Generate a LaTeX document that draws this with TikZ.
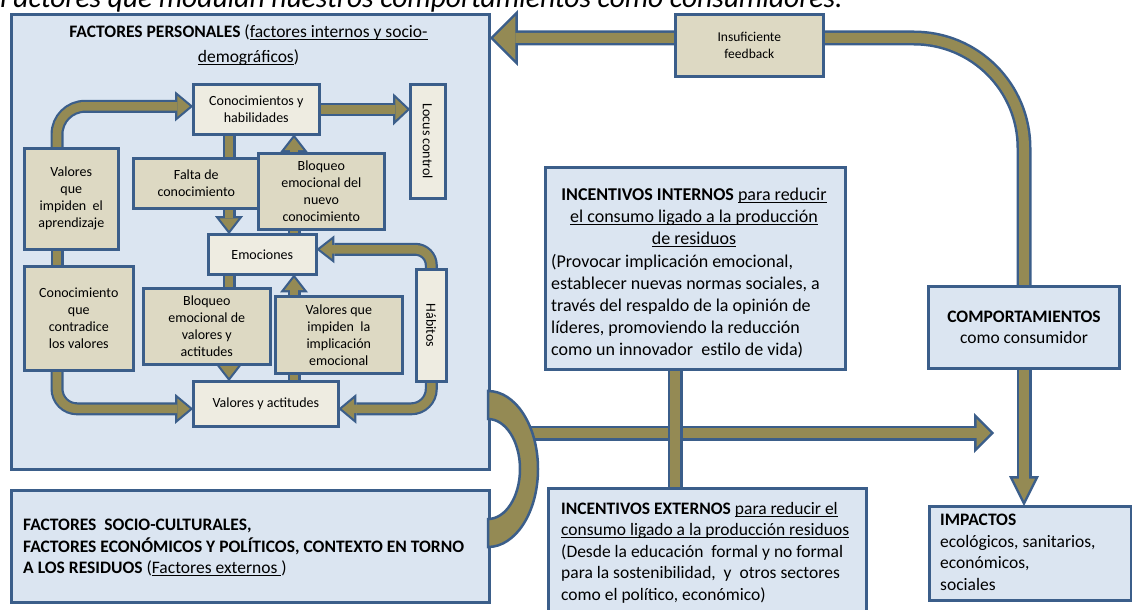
\documentclass[tikz,border=0pt]{standalone}
\usepackage{fontspec}
\setmainfont{Carlito}
\newcommand\myul[1]{\leavevmode\setbox0\hbox{#1}\rlap{\rule[-2.4pt]{\wd0}{0.9pt}}\box0}
\usetikzlibrary{arrows.meta,calc}
\definecolor{bordc}{HTML}{3B5E8A}
\definecolor{boxblue}{HTML}{DBE5F1}
\definecolor{tanc}{HTML}{DDD9C3}
\definecolor{creamc}{HTML}{EEECE1}
\definecolor{arrfill}{HTML}{948A54}
\pgfdeclarelayer{bg}
\pgfdeclarelayer{arr}
\pgfsetlayers{bg,arr,main}
% #1 options, #2 path, #3 outer width, #4 border, #5 head length, #6 head width
\newcommand\fatarrow[6]{%
  \pgfmathsetmacro\faD{#4/sin(atan((#6/2)/#5))}%
  \pgfmathsetmacro\faL{#5-\faD-#4}%
  \pgfmathsetmacro\faH{#6*\faL/#5}%
  \pgfmathsetmacro\faW{#3-2*#4}%
  \pgfmathsetmacro\faS{\faD-1.2}%
  \draw[#1, line width=#3pt, draw=bordc, shorten >=-1.2pt, -{Triangle[length=#5pt,width=#6pt,line width=0pt]}] #2;
  \draw[#1, line width=\faW pt, draw=arrfill, shorten >=\faS pt, -{Triangle[length=\faL pt,width=\faH pt,line width=0pt]}] #2;
}
\newcommand\fatline[4]{%
  \pgfmathsetmacro\faW{#3-2*#4}%
  \draw[#1, line width=#3pt, draw=bordc] #2;
  \draw[#1, line width=\faW pt, draw=arrfill] #2;
}
\begin{document}
\begin{tikzpicture}[x=1pt,y=-1pt,
  bigbox/.style={draw=bordc, fill=boxblue, line width=3pt, inner sep=0pt, anchor=north west},
  tanbox/.style={draw=bordc, fill=tanc, line width=2.6pt, inner sep=0pt, anchor=north west, align=center, font=\fontsize{14}{17}\selectfont},
  creambox/.style={tanbox, fill=creamc},
  bigtext/.style={font=\fontsize{17.5}{21.5}\selectfont, inner sep=0pt},
]
\useasboundingbox (0,0) rectangle (1132,610);
\clip (0,0) rectangle (1132,610);

\begin{pgfonlayer}{bg}
\node[anchor=base west, inner sep=0pt, font=\fontsize{29.5}{34}\selectfont\itshape] (title) at (0,8) {Factores que modulan nuestros comportamientos como consumidores.};
\node[bigbox, minimum width=478, minimum height=455] (pers) at (10,13) {};
\node[bigbox, minimum width=478, minimum height=112] (socio) at (10,489) {};
\end{pgfonlayer}

% outer boxes
\node[bigbox, minimum width=300, minimum height=202] (intbox) at (544,166) {};
\node[bigbox, minimum width=318, minimum height=140] (extbox) at (547,487) {};
\node[bigbox, minimum width=191, minimum height=82, align=center, font=\fontsize{17.5}{21.5}\selectfont] (comp) at (927,285) {\textbf{COMPORTAMIENTOS}\\como consumidor};
\node[bigbox, minimum width=202, minimum height=94] (imp) at (928,505) {};
\node[tanbox, minimum width=148, minimum height=62, font=\fontsize{13.5}{17}\selectfont] (fb) at (674,13) {Insuficiente\\feedback};

% inner boxes
\node[creambox, minimum width=126, minimum height=50] (conoc) at (192,83) {Conocimientos y\\habilidades};
\node[creambox, minimum width=35, minimum height=114] (locus) at (409,83) {\rotatebox{-90}{Locus control}};
\node[tanbox, minimum width=94, minimum height=101] (vap) at (23,147) {Valores\\que\\impiden~ el\\aprendizaje};
\node[tanbox, minimum width=126, minimum height=50] (falta) at (132,157) {Falta de\\conocimiento};
\node[tanbox, minimum width=126, minimum height=76] (bnuevo) at (257,152) {Bloqueo\\emocional del\\nuevo\\conocimiento};
\node[creambox, minimum width=108, minimum height=40] (emoc) at (207,233) {Emociones};
\node[creambox, minimum width=30, minimum height=112] (hab) at (415,268) {\rotatebox{-90}{Hábitos}};
\node[tanbox, minimum width=109, minimum height=104] (ccv) at (23,265) {Conocimiento\\que\\contradice\\los valores};
\node[tanbox, minimum width=127, minimum height=76] (bval) at (142,287) {Bloqueo\\emocional de\\valores y\\actitudes};
\node[tanbox, minimum width=127, minimum height=77] (vimp) at (274,295) {Valores que\\impiden~ la\\implicación\\emocional};
\node[creambox, minimum width=145, minimum height=45] (vya) at (192,380) {Valores y actitudes};

% texts
\node[bigtext, align=center, anchor=north, font=\fontsize{17.5}{25}\selectfont] (pershead) at (248.5,25) {\textbf{FACTORES PERSONALES} (\myul{factores internos y socio-}\\\myul{demográficos} )};
\node[bigtext, align=center, anchor=north, font=\fontsize{18}{22}\selectfont] (inthead) at (694,188) {\textbf{INCENTIVOS INTERNOS} \myul{para reducir}\\\myul{el consumo ligado a la producción}\\\myul{de residuos}};
\node[bigtext, align=left, anchor=north west, font=\fontsize{18}{22}\selectfont] (intbody) at (551,254) {(Provocar implicación emocional,\\establecer nuevas normas sociales, a\\través del respaldo de la opinión de\\líderes, promoviendo la reducción\\como un innovador~ estilo de vida)};
\node[bigtext, align=left, anchor=north west] (exttext) at (561,502) {\textbf{INCENTIVOS EXTERNOS} \myul{para reducir el}\\\myul{consumo ligado a la producción residuos}\\(Desde la educación~ formal y no formal\\para la sostenibilidad,~ y~ otros sectores\\como el político, económico)};
\node[bigtext, align=left, anchor=north west] (sociotext) at (23,519) {\textbf{FACTORES~ SOCIO-CULTURALES,}\\\textbf{FACTORES ECONÓMICOS Y POLÍTICOS, CONTEXTO EN TORNO}\\\textbf{A LOS RESIDUOS} (\myul{Factores externos\ })};
\node[bigtext, align=left, anchor=north west] (imptext) at (940,514) {\textbf{IMPACTOS}\\ecológicos, sanitarios,\\económicos,\\sociales};

% column / row helpers
\coordinate (xL) at (57,0);
\coordinate (xD) at (229,0);
\coordinate (xU) at (294,0);
\coordinate (xI) at (675,0);
\coordinate (fbrow) at (0,38);
\coordinate (hstart) at (518,433);
\coordinate (htip) at (993,433);

\begin{pgfonlayer}{arr}
\fatarrow{rounded corners=28pt}{(vap.north -| xL) |- ([yshift=3pt]conoc.west)}{13}{2.2}{18}{30}
\fatarrow{}{(conoc.east) -- (conoc.east -| locus.west)}{13}{2.2}{17}{32}
\fatarrow{}{(conoc.south -| xD) -- (emoc.north -| xD)}{13}{2.2}{18}{28}
\fatarrow{}{(emoc.north -| xU) -- (conoc.south -| xU)}{13}{2.2}{18}{28}
\fatarrow{}{(emoc.south -| xD) -- (vya.north -| xD)}{13}{2.2}{18}{28}
\fatarrow{}{(vya.north -| xU) -- (emoc.south -| xU)}{13}{2.2}{18}{28}
\fatarrow{rounded corners=16pt}{(hab.north) |- ([yshift=5pt]emoc.east)}{13}{2.2}{18}{28}
\fatarrow{rounded corners=20pt}{(hab.south) |- ([yshift=-5pt]vya.east)}{13}{2.2}{18}{30}
\fatarrow{rounded corners=20pt}{(ccv.south -| xL) |- ([yshift=-5pt]vya.west)}{13}{2.2}{18}{30}
\fatline{}{(vap.south -| xL) -- (ccv.north -| xL)}{13}{2.2}
\fatarrow{rounded corners=110pt}{(comp.north) |- (fbrow -| pers.east)}{15}{2.5}{28}{56}
\fatarrow{}{(hstart) -- (htip)}{15}{2.5}{20}{40}
\fatline{}{(intbox.south -| xI) -- (extbox.north -| xI)}{15}{2.5}
\fatarrow{}{(comp.south) -- (comp.south |- imp.north)}{15}{2.5}{30}{30}
\end{pgfonlayer}

% crescent joining the two factor boxes
\filldraw[fill=arrfill, draw=bordc, line width=2.5pt] (488,391) arc[start angle=90, end angle=-90, x radius=50pt, y radius=78pt] -- (488,519) arc[start angle=-90, end angle=90, x radius=32pt, y radius=50pt] -- cycle;
\end{tikzpicture}
\end{document}
